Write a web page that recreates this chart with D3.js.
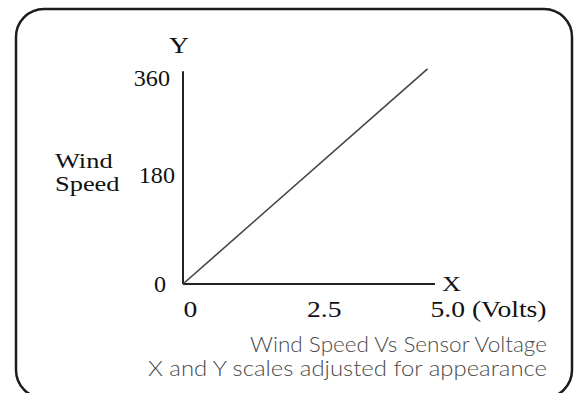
<!DOCTYPE html>
<html>
<head>
<meta charset="utf-8">
<script src="https://cdn.jsdelivr.net/npm/d3@7"></script>
<style>
  html, body { margin: 0; padding: 0; background: #fff; }
  svg { display: block; }
</style>
</head>
<body>
<svg id="chart" width="576" height="393"></svg>
<script>
// ---- data ----
const voltage = [0, 4.95];          // X (Volts)
const windSpeed = [0, 376];         // Y (wind speed)
const xTicks = [0, 2.5, 5.0];
const xTickLabels = ["0", "2.5", "5.0 (Volts)"];
const yTicks = [0, 180, 360];
const yTickLabels = ["0", "180", "360"];
const yTitle = ["Wind", "Speed"];
const captionLines = ["Wind Speed Vs Sensor Voltage", "X and Y scales adjusted for appearance"];

const svg = d3.select("#chart");
const serif = "'Liberation Serif', 'Times New Roman', serif";

// horizontally widen text (the reference lettering is stretched)
function stretch(sel, f) {
  sel.each(function () {
    const w = this.getComputedTextLength();
    d3.select(this).attr("textLength", w * f).attr("lengthAdjust", "spacingAndGlyphs");
  });
}

// frame
svg.append("rect")
  .attr("x", 16).attr("y", 9)
  .attr("width", 556).attr("height", 389)
  .attr("rx", 28).attr("ry", 28)
  .attr("fill", "none")
  .attr("stroke", "#1c1c1c")
  .attr("stroke-width", 2.5);

// scales
const x = d3.scaleLinear().domain([0, 5]).range([183, 430]);
const y = d3.scaleLinear().domain([0, 360]).range([284, 78]);
const xMax = 5.1, yMax = 372;

// axes
const xAxis = d3.axisBottom(x)
  .tickValues(xTicks)
  .tickSize(0).tickSizeOuter(0)
  .tickFormat((d, i) => xTickLabels[i]);
const yAxis = d3.axisLeft(y)
  .tickValues(yTicks)
  .tickSize(0).tickSizeOuter(0)
  .tickFormat((d, i) => yTickLabels[i]);

const gx = svg.append("g").attr("transform", `translate(0,${y(0)})`).call(xAxis);
gx.select(".domain").attr("d", `M${x(0)},0H${x(xMax)}`)
  .attr("stroke", "#222").attr("stroke-width", 2);
gx.selectAll("text")
  .attr("font-family", serif).attr("font-size", 23).attr("fill", "#111")
  .attr("text-anchor", "start")
  .attr("y", 33).attr("dy", 0)
  .call(stretch, 1.2);

const gy = svg.append("g").attr("transform", `translate(${x(0)},0)`).call(yAxis);
gy.select(".domain").attr("d", `M0,${y(0)}V${y(yMax)}`)
  .attr("stroke", "#222").attr("stroke-width", 2);
gy.selectAll("text")
  .attr("font-family", serif).attr("font-size", 23).attr("fill", "#111")
  .attr("x", d => d === 180 ? -8 : (d === 0 ? -17 : -13))
  .attr("y", d => d === 180 ? -6 : 0)
  .attr("dy", "0.32em")
  .call(stretch, 1.05);

// axis letters
svg.append("text")
  .attr("x", x(0) - 4).attr("y", 53)
  .attr("text-anchor", "middle")
  .attr("font-family", serif).attr("font-size", 24).attr("fill", "#111")
  .text("Y")
  .call(stretch, 1.15);
svg.append("text")
  .attr("x", x(xMax) + 7).attr("y", y(0) + 7)
  .attr("font-family", serif).attr("font-size", 22).attr("fill", "#111")
  .text("X")
  .call(stretch, 1.2);

// Y title
svg.append("g").selectAll("text").data(yTitle).join("text")
  .attr("font-family", serif).attr("font-size", 22).attr("fill", "#111")
  .attr("x", 55).attr("y", (d, i) => 168 + i * 23)
  .text(d => d)
  .call(stretch, 1.2);

// line
const line = d3.line().x((d, i) => x(voltage[i])).y(d => y(d));
svg.append("path")
  .datum(windSpeed)
  .attr("d", line)
  .attr("fill", "none")
  .attr("stroke", "#444")
  .attr("stroke-width", 1.6);

// caption
const captionWidths = [297, 399];
svg.append("g").selectAll("text").data(captionLines).join("text")
  .attr("x", 547).attr("y", (d, i) => 352 + i * 24)
  .attr("text-anchor", "end")
  .attr("font-family", "Lato, 'Open Sans', sans-serif")
  .attr("font-weight", 300)
  .attr("font-size", 21)
  .attr("fill", "#4a4a4a")
  .attr("textLength", (d, i) => captionWidths[i])
  .attr("lengthAdjust", "spacingAndGlyphs")
  .text(d => d);
</script>
</body>
</html>
